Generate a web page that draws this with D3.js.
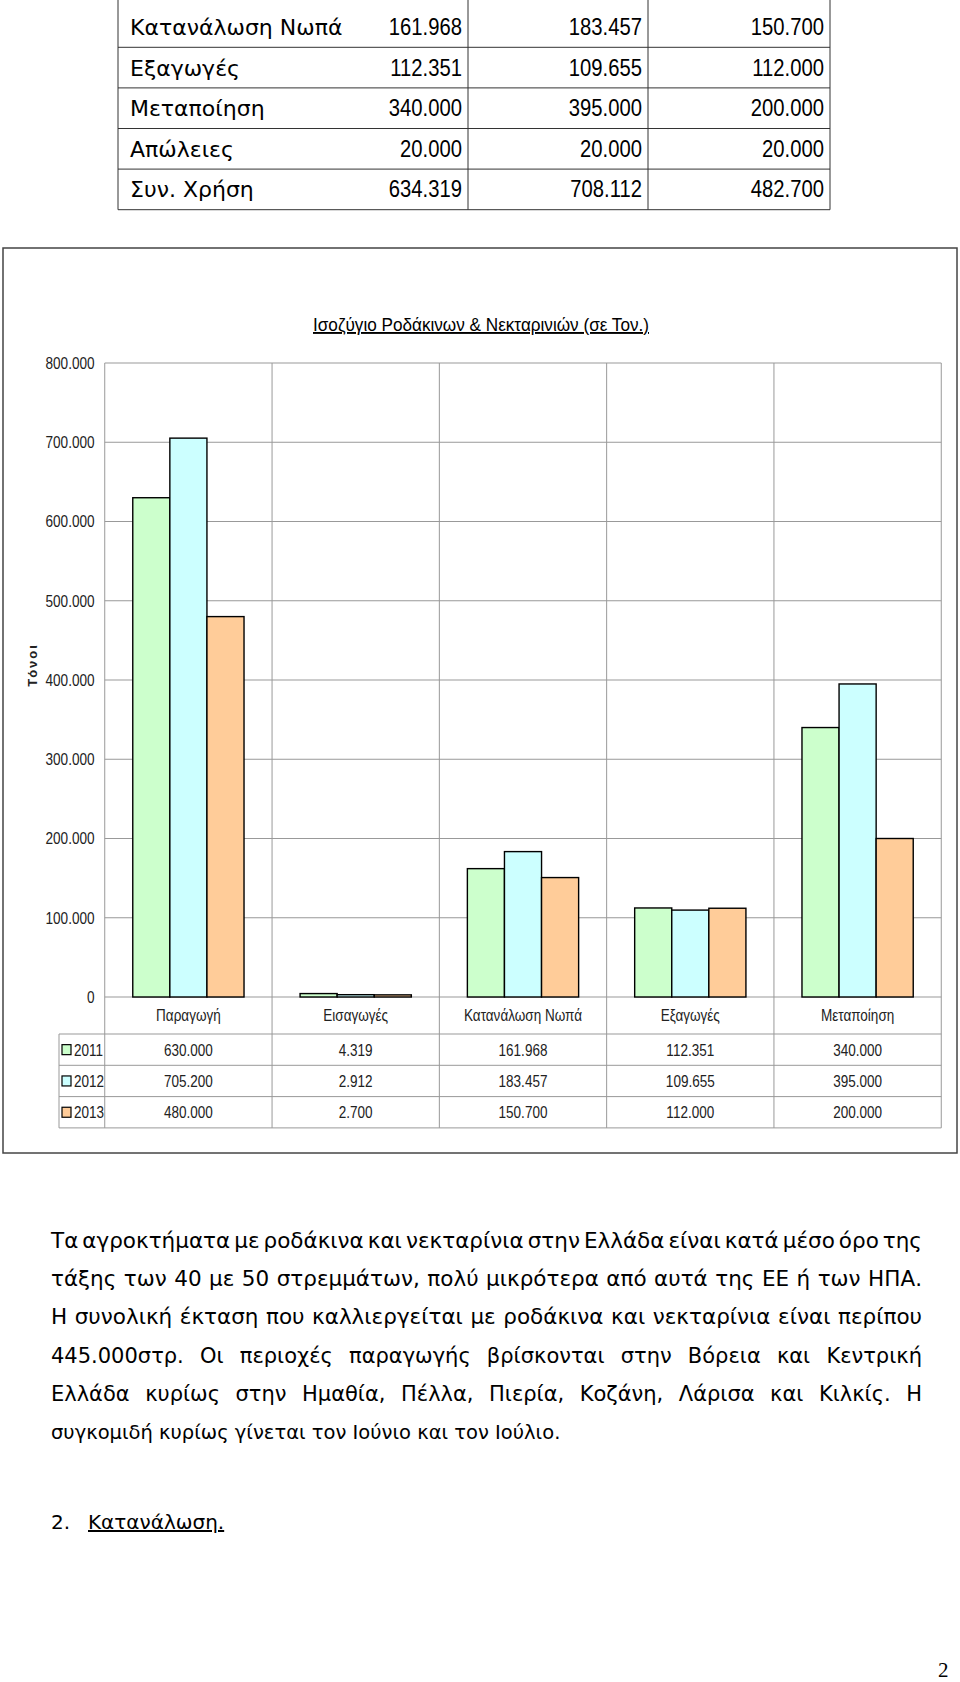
<!DOCTYPE html>
<html>
<head>
<meta charset="utf-8">
<script src="https://cdn.jsdelivr.net/npm/d3@7"></script>
<style>
  body { margin: 0; background: #fff; }
  svg { display: block; }
</style>
</head>
<body>
<div id="page"></div>
<script>
// chart data
const categories = ["Παραγωγή", "Εισαγωγές", "Κατανάλωση Νωπά", "Εξαγωγές", "Μεταποίηση"]
const years = ["2011", "2012", "2013"]
const values2011 = [630000, 4319, 161968, 112351, 340000]
const values2012 = [705200, 2912, 183457, 109655, 395000]
const values2013 = [480000, 2700, 150700, 112000, 200000]
const yTicks = [0, 100000, 200000, 300000, 400000, 500000, 600000, 700000, 800000]
const colors = ["#ccffcc", "#ccffff", "#ffcc99"]

// table above the chart (its top is cut off in the page)
const tableLabels = ["Κατανάλωση Νωπά", "Εξαγωγές", "Μεταποίηση", "Απώλειες", "Συν. Χρήση"]
const table2011 = [161968, 112351, 340000, 20000, 634319]
const table2012 = [183457, 109655, 395000, 20000, 708112]
const table2013 = [150700, 112000, 200000, 20000, 482700]

const paragraph = [
  "Τα αγροκτήματα με ροδάκινα και νεκταρίνια στην Ελλάδα είναι κατά μέσο όρο της",
  "τάξης των 40 με 50 στρεμμάτων, πολύ μικρότερα από αυτά της ΕΕ ή των ΗΠΑ.",
  "Η συνολική έκταση που καλλιεργείται με ροδάκινα και νεκταρίνια είναι περίπου",
  "445.000στρ. Οι περιοχές παραγωγής βρίσκονται στην Βόρεια και Κεντρική",
  "Ελλάδα κυρίως στην Ημαθία, Πέλλα, Πιερία, Κοζάνη, Λάρισα και Κιλκίς. Η",
  "συγκομιδή κυρίως γίνεται  τον Ιούνιο και τον Ιούλιο."
]

const series = years.map((y, i) => ({ year: y, color: colors[i], values: [values2011, values2012, values2013][i] }))

const gr = d3.formatLocale({ decimal: ",", thousands: ".", grouping: [3], currency: ["", "€"] })
const fmt = gr.format(",.0f")

const sans = "'Liberation Sans', Arial, sans-serif"
const comic = "'DejaVu Sans', sans-serif"
const squeeze = 0.82 // stand-in for Arial Narrow

const svg = d3.select("#page").append("svg")
  .attr("width", 960)
  .attr("height", 1682)

// narrow looking label: text squeezed horizontally around its anchor
function narrowText(parent, x, y, str, anchor, size, k) {
  return parent.append("g").attr("transform", `translate(${x},${y})`)
    .append("text")
    .attr("transform", `scale(${k || squeeze},1)`)
    .attr("text-anchor", anchor)
    .style("font-family", sans).style("font-size", size + "px")
    .attr("fill", "#222")
    .text(str)
}

// ---- top table
const tLeft = 118, tCols = [468, 648, 830], rowH = 40.6, firstRow = 27
const tg = svg.append("g").attr("class", "top-table")
;[tLeft].concat(tCols).forEach(x => {
  tg.append("line").attr("x1", x).attr("x2", x).attr("y1", 0).attr("y2", firstRow + 20.3 + rowH * 4)
    .attr("stroke", "#333").attr("stroke-width", 1)
})
tableLabels.forEach((lab, i) => {
  const cy = firstRow + i * rowH
  tg.append("line").attr("x1", tLeft).attr("x2", tCols[2]).attr("y1", cy + 20.3).attr("y2", cy + 20.3)
    .attr("stroke", "#333").attr("stroke-width", 1)
  tg.append("text").attr("x", tLeft + 12).attr("y", cy + 8)
    .style("font-family", comic).style("font-size", "22px").text(lab)
  ;[table2011[i], table2012[i], table2013[i]].forEach((v, j) => {
    narrowText(tg, tCols[j] - 6, cy + 8, fmt(v), "end", 23, 0.88).attr("fill", "#000")
  })
})

// ---- chart frame + title
svg.append("rect").attr("x", 3).attr("y", 248).attr("width", 954).attr("height", 905)
  .attr("fill", "none").attr("stroke", "#444").attr("stroke-width", 1.5)

svg.append("text").attr("x", 481 - 168).attr("y", 331)
  .attr("textLength", 336).attr("lengthAdjust", "spacingAndGlyphs")
  .style("font-family", sans).style("font-size", "19px")
  .style("text-decoration", "underline")
  .text("Ισοζύγιο Ροδάκινων & Νεκταρινιών  (σε Τον.)")

// scales
const yScale = d3.scaleLinear().domain([0, 800000]).range([997, 363])
const x0 = d3.scaleBand().domain(categories).range([106, 940]).paddingInner(0.335).paddingOuter(0.16)
const x1 = d3.scaleBand().domain(years).range([0, x0.bandwidth()])
const halfGap = (x0.step() - x0.bandwidth()) / 2
const bounds = categories.map(c => x0(c) - halfGap).concat([x0(categories[4]) + x0.bandwidth() + halfGap])

const rowTop = 1034, legRowH = 31.3

// gridlines
svg.append("g").selectAll("line").data(yTicks).join("line")
  .attr("x1", bounds[0]).attr("x2", bounds[5])
  .attr("y1", d => yScale(d)).attr("y2", d => yScale(d))
  .attr("stroke", "#999").attr("stroke-width", 1)

svg.append("g").selectAll("line").data(bounds).join("line")
  .attr("x1", d => d).attr("x2", d => d)
  .attr("y1", yScale(800000)).attr("y2", rowTop + legRowH * 3)
  .attr("stroke", "#999").attr("stroke-width", 1)

// bars
svg.append("g").selectAll("g").data(series).join("g")
  .attr("fill", d => d.color)
  .selectAll("rect").data(d => d.values.map((v, i) => ({ cat: categories[i], year: d.year, v })))
  .join("rect")
  .attr("x", d => x0(d.cat) + x1(d.year))
  .attr("width", x1.bandwidth())
  .attr("y", d => yScale(d.v))
  .attr("height", d => yScale(0) - yScale(d.v))
  .attr("stroke", "#000").attr("stroke-width", 1.4)

// axes
const yAxis = d3.axisLeft(yScale).tickValues(yTicks).tickSize(0).tickPadding(8).tickFormat(fmt)
svg.append("g").attr("class", "y-axis").attr("transform", "translate(101,0)").call(yAxis)
  .call(g => g.select(".domain").remove())
  .selectAll("text").attr("transform", `scale(0.8,1)`)
  .style("font-family", sans).style("font-size", "17px").attr("fill", "#222")

const xAxis = d3.axisBottom(x0).tickSize(0).tickPadding(12)
svg.append("g").attr("class", "x-axis").attr("transform", `translate(0,${yScale(0)})`).call(xAxis)
  .call(g => g.select(".domain").remove())
  .selectAll("text").attr("transform", `scale(${squeeze},1)`)
  .style("font-family", sans).style("font-size", "16.5px").attr("fill", "#222")

// y title
svg.append("text").attr("transform", "translate(37,665) rotate(-90)")
  .attr("text-anchor", "middle")
  .style("font-family", sans).style("font-size", "13px")
  .style("font-weight", "bold").style("letter-spacing", "2px").attr("fill", "#222")
  .text("Τόνοι")

// data table under the chart
const dt = svg.append("g").attr("class", "data-table")
d3.range(4).forEach(i => {
  dt.append("line").attr("x1", 59).attr("x2", bounds[5])
    .attr("y1", rowTop + i * legRowH).attr("y2", rowTop + i * legRowH)
    .attr("stroke", "#999")
})
dt.append("line").attr("x1", 59).attr("x2", 59).attr("y1", rowTop).attr("y2", rowTop + 3 * legRowH)
  .attr("stroke", "#999")

series.forEach((s, i) => {
  const cy = rowTop + legRowH * (i + 0.5)
  dt.append("rect").attr("x", 62).attr("y", cy - 5).attr("width", 9).attr("height", 10)
    .attr("fill", s.color).attr("stroke", "#000").attr("stroke-width", 1.2)
  narrowText(dt, 74, cy + 6, s.year, "start", 16.5)
  s.values.forEach((v, j) => {
    narrowText(dt, x0(categories[j]) + x0.bandwidth() / 2, cy + 6, fmt(v), "middle", 16.5)
  })
})

// ---- body text, justified by widening the word gaps
const pg = svg.append("g").attr("class", "paragraph")
const textLeft = 51, textWidth = 871

function writeLine(str, y, size, justify) {
  const t = pg.append("text").attr("y", y)
    .style("font-family", comic).style("font-size", size + "px")
  const words = str.split(" ").filter(w => w.length)
  const spans = words.map(w => t.append("tspan").text(w))
  const widths = spans.map(s => s.node().getComputedTextLength())
  const space = size * 0.318
  const gap = justify ? (textWidth - d3.sum(widths)) / (words.length - 1) : space
  let x = textLeft
  spans.forEach((s, i) => {
    s.attr("x", x)
    x += widths[i] + gap
  })
}

paragraph.forEach((line, i) => {
  const size = i < 3 ? 21.5 : (i < 5 ? 21 : 19.5)
  writeLine(line, 1248 + i * 38.2, size, i < 5)
})

pg.append("text").attr("x", 51).attr("y", 1529)
  .style("font-family", comic).style("font-size", "20px").text("2.")
pg.append("text").attr("x", 88).attr("y", 1529)
  .style("font-family", comic).style("font-size", "20px")
  .style("text-decoration", "underline").text("Κατανάλωση.")

svg.append("text").attr("x", 938).attr("y", 1677)
  .style("font-family", "'Liberation Serif', serif").style("font-size", "21px").text("2")
</script>
</body>
</html>
